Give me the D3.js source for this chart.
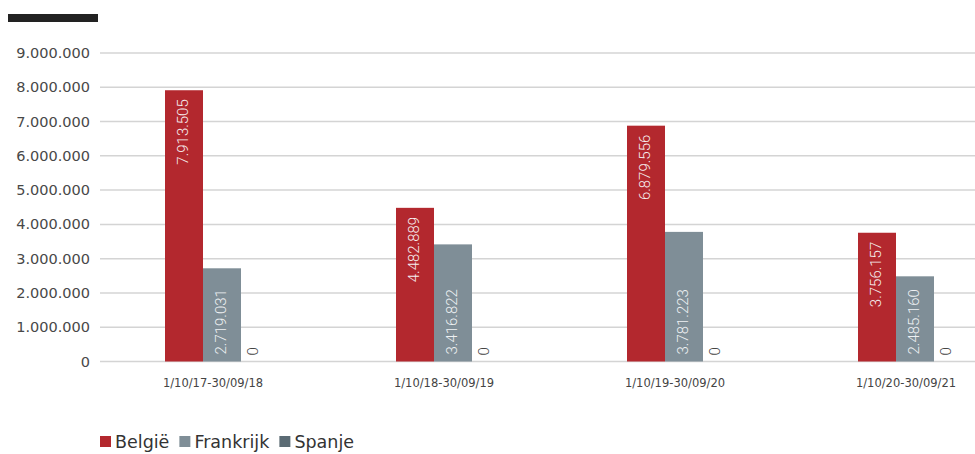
<!DOCTYPE html>
<html><head><meta charset="utf-8">
<script src="https://cdn.jsdelivr.net/npm/d3@7"></script>
<style>body{margin:0;background:#fff}svg{display:block}</style>
</head><body>
<svg id="c" width="975" height="454"></svg>
<script>
const periods = ["1/10/17-30/09/18","1/10/18-30/09/19","1/10/19-30/09/20","1/10/20-30/09/21"];
const seriesNames = ["België","Frankrijk","Spanje"];
const belgie = [7913505, 4482889, 6879556, 3756157];
const frankrijk = [2719031, 3416822, 3781223, 2485160];
const spanje = [0, 0, 0, 0];
const yTicks = [0,1000000,2000000,3000000,4000000,5000000,6000000,7000000,8000000,9000000];
const colors = ["#b3282e","#7f8e97","#5b6b74"];

const seriesVals = [belgie, frankrijk, spanje];
const loc = d3.formatLocale({decimal:",", thousands:".", grouping:[3], currency:["€",""]});
const fmt = loc.format(",d");

const svg = d3.select("#c");
const y = d3.scaleLinear().domain([0,9000000]).range([361.5,53]);
const x0 = d3.scaleBand().domain(periods).range([106.5,1030.5]).padding(0);
const x1 = d3.scaleBand().domain(seriesNames).range([58.5,172.5]).padding(0);

// top black bar
svg.append("rect").attr("x",8).attr("y",14).attr("width",90).attr("height",8).attr("fill","#222");

// grid
svg.append("g").selectAll("line").data(yTicks).join("line")
  .attr("x1",100).attr("x2",975).attr("y1",d=>y(d)).attr("y2",d=>y(d))
  .attr("stroke","#d4d4d4").attr("stroke-width",1.5);

// y labels
svg.append("g").selectAll("text").data(yTicks).join("text")
  .attr("x",90).attr("y",d=>y(d)).attr("dy","0.35em").attr("text-anchor","end")
  .attr("font-family","'DejaVu Sans'").attr("font-size",14.5).attr("fill","#484848")
  .text(d=>fmt(d));

// bars
const groups = svg.append("g").selectAll("g").data(periods).join("g")
  .attr("transform",d=>`translate(${x0(d)},0)`);
groups.each(function(p,i){
  const g = d3.select(this);
  seriesNames.forEach((s,j)=>{
    const v = seriesVals[j][i];
    const bx = x1(s), bw = x1.bandwidth();
    g.append("rect").attr("x",bx).attr("y",y(v)).attr("width",bw).attr("height",y(0)-y(v)).attr("fill",colors[j]);
    const cx = bx + bw/2;
    if (v === 0) {
      g.append("text").attr("transform",`translate(${cx-6},${y(0)-6}) rotate(-90)`)
        .attr("dominant-baseline","middle").attr("text-anchor","start")
        .attr("font-family","Roboto").attr("font-weight",300).attr("font-size",15).attr("fill","#444")
        .text(fmt(v));
    } else if (j === 0) {
      g.append("text").attr("transform",`translate(${cx},${y(v)+9}) rotate(-90)`)
        .attr("dominant-baseline","middle").attr("text-anchor","end")
        .attr("font-family","Roboto").attr("font-weight",300).attr("font-size",15).attr("fill","#f6eeee")
        .text(fmt(v));
    } else {
      g.append("text").attr("transform",`translate(${cx},${y(0)-7}) rotate(-90)`)
        .attr("dominant-baseline","middle").attr("text-anchor","start")
        .attr("font-family","Roboto").attr("font-weight",300).attr("font-size",15).attr("fill","#eef1f3")
        .text(fmt(v));
    }
  });
  g.append("text").attr("x",x0.bandwidth()/2 - 9).attr("y",387).attr("text-anchor","middle")
    .attr("font-family","'DejaVu Sans'").attr("font-size",11.5).attr("fill","#444").text(p);
});

// legend
const lg = svg.append("g").attr("transform","translate(100,442)");
let lx = 0;
seriesNames.forEach((s,j)=>{
  const it = lg.append("g").attr("transform",`translate(${lx},0)`);
  it.append("rect").attr("x",0).attr("y",-6).attr("width",11).attr("height",11).attr("fill",colors[j]);
  const t = it.append("text").attr("x",15).attr("y",0).attr("dy","0.35em")
    .attr("font-family","'DejaVu Sans'").attr("font-size",17.5).attr("fill","#333").text(s);
  lx += 15 + t.node().getComputedTextLength() + 10;
});
</script>
</body></html>
